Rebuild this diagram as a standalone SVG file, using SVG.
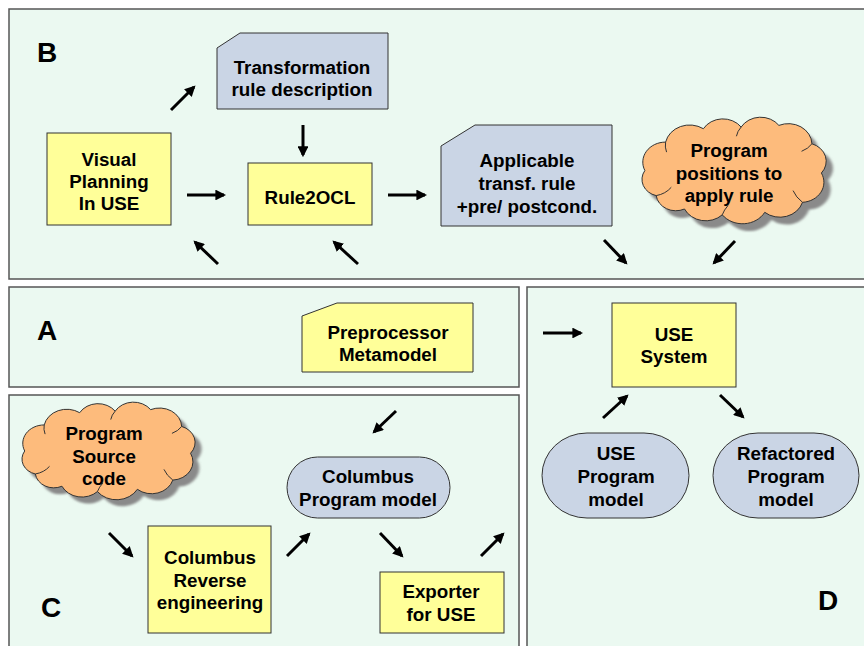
<svg xmlns="http://www.w3.org/2000/svg" xmlns:xlink="http://www.w3.org/1999/xlink" width="864" height="646" viewBox="0 0 864 646">
<style>
.panel{fill:#EBF9F1;stroke:#555;stroke-width:1.5}
.yel{fill:#FFFF99;stroke:#333;stroke-width:1}
.blu{fill:#CAD5E5;stroke:#333;stroke-width:1}
.cl{fill:#FDBB7C;stroke:#333;stroke-width:1}
.sh{fill:#8A8A8A}
.t{font-family:"Liberation Sans",Arial,sans-serif;font-weight:bold;font-size:18.8px;fill:#000;text-anchor:middle}
.big{font-family:"Liberation Sans",Arial,sans-serif;font-weight:bold;font-size:28px;fill:#000}
.arr{stroke:#000;stroke-width:3;fill:none;marker-end:url(#ah)}
</style>
<defs>
<marker id="ah" viewBox="0 0 10 10" refX="8" refY="5" markerWidth="3.6" markerHeight="3.6" orient="auto" markerUnits="strokeWidth">
<path d="M0,0 L10,5 L0,10 z" fill="#000"/>
</marker>
<filter id="blur" x="-10%" y="-10%" width="120%" height="120%"><feGaussianBlur stdDeviation="1.5"/></filter>
<path id="cloud" vector-effect="non-scaling-stroke" d="M8,62 A24,24 0 0 1 30,28 A26,26 0 0 1 70,12 A24,24 0 0 1 110,10 A24,24 0 0 1 150,8 A25,25 0 0 1 185,30 A22,22 0 0 1 195,65 A24,24 0 0 1 175,100 A25,25 0 0 1 135,112 A27,27 0 0 1 90,115 A25,25 0 0 1 50,108 A21,21 0 0 1 20,92 A20,20 0 0 1 8,62 Z"/>
<path id="cloudin" vector-effect="non-scaling-stroke" fill="none" d="M20,92 Q30,90 36,82 M30,28 Q29,34 31,40 M110,10 Q106,15 105,21 M185,30 Q181,36 174,39 M175,100 Q168,94 165,86 M90,115 Q92,109 96,104"/>
</defs>

<rect class="panel" x="9" y="9" width="870" height="270"/>
<rect class="panel" x="9" y="287" width="510" height="100"/>
<rect class="panel" x="9" y="395" width="510" height="262"/>
<rect class="panel" x="527" y="287" width="350" height="370"/>
<text class="big" x="37" y="62">B</text>
<text class="big" x="37" y="340">A</text>
<text class="big" x="41" y="617">C</text>
<text class="big" x="818" y="610">D</text>

<g id="transformation-rule">
<polygon class="blu" points="217,48 240,33 388,33 388,109 217,109"/>
<text class="t" x="302" y="74">Transformation</text>
<text class="t" x="302" y="96">rule description</text>
</g>
<g id="visual-planning">
<rect class="yel" x="47" y="133" width="124" height="92"/>
<text class="t" x="109" y="166">Visual</text>
<text class="t" x="109" y="188">Planning</text>
<text class="t" x="109" y="210">In USE</text>
</g>
<g id="rule2ocl">
<rect class="yel" x="248" y="163" width="124" height="62"/>
<text class="t" x="310" y="204">Rule2OCL</text>
</g>
<g id="applicable-rule">
<polygon class="blu" points="441,146 475,125 612,125 612,226 441,226"/>
<text class="t" x="527" y="167">Applicable</text>
<text class="t" x="527" y="190">transf. rule</text>
<text class="t" x="527" y="213">+pre/ postcond.</text>
</g>
<g id="program-positions">
<use xlink:href="#cloud" class="sh" filter="url(#blur)" transform="translate(644,126) scale(0.944,0.836)"/>
<use xlink:href="#cloud" class="cl" transform="translate(637.3,118.7) scale(0.944,0.836)"/>
<use xlink:href="#cloudin" stroke="#333" transform="translate(637.3,118.7) scale(0.944,0.836)"/>
<text class="t" x="729" y="157">Program</text>
<text class="t" x="729" y="180">positions to</text>
<text class="t" x="729" y="202">apply rule</text>
</g>
<g id="preprocessor-metamodel">
<polygon class="yel" points="302,316 337,303 473,303 473,372 302,372"/>
<text class="t" x="388" y="339">Preprocessor</text>
<text class="t" x="388" y="361">Metamodel</text>
</g>
<g id="program-source">
<use xlink:href="#cloud" class="sh" filter="url(#blur)" transform="translate(24,410) scale(0.887,0.766)"/>
<use xlink:href="#cloud" class="cl" transform="translate(17.6,403.5) scale(0.887,0.766)"/>
<use xlink:href="#cloudin" stroke="#333" transform="translate(17.6,403.5) scale(0.887,0.766)"/>
<text class="t" x="104" y="440">Program</text>
<text class="t" x="104" y="463">Source</text>
<text class="t" x="104" y="485">code</text>
</g>
<g id="columbus-program-model">
<rect class="blu" x="287" y="457" width="163" height="61" rx="30.5" ry="30.5"/>
<text class="t" x="368" y="483">Columbus</text>
<text class="t" x="368" y="506">Program model</text>
</g>
<g id="columbus-reverse">
<rect class="yel" x="148" y="526" width="123" height="107"/>
<text class="t" x="210" y="564">Columbus</text>
<text class="t" x="210" y="587">Reverse</text>
<text class="t" x="210" y="609">engineering</text>
</g>
<g id="exporter">
<rect class="yel" x="380" y="572" width="124" height="61"/>
<text class="t" x="441" y="598">Exporter</text>
<text class="t" x="441" y="621">for USE</text>
</g>
<g id="use-system">
<rect class="yel" x="612" y="303" width="124" height="84"/>
<text class="t" x="674" y="341">USE</text>
<text class="t" x="674" y="363">System</text>
</g>
<g id="use-program-model">
<rect class="blu" x="542" y="433" width="147" height="85" rx="45" ry="42.5"/>
<text class="t" x="616" y="460">USE</text>
<text class="t" x="616" y="483">Program</text>
<text class="t" x="616" y="506">model</text>
</g>
<g id="refactored-program-model">
<rect class="blu" x="713" y="433" width="146" height="85" rx="45" ry="42.5"/>
<text class="t" x="786" y="460">Refactored</text>
<text class="t" x="786" y="483">Program</text>
<text class="t" x="786" y="506">model</text>
</g>

<g id="connectors">
<line class="arr" x1="171" y1="110" x2="194" y2="87"/>
<line class="arr" x1="303" y1="125" x2="303" y2="155"/>
<line class="arr" x1="187" y1="195" x2="224" y2="195"/>
<line class="arr" x1="388" y1="195" x2="425" y2="195"/>
<line class="arr" x1="218" y1="264" x2="195" y2="242"/>
<line class="arr" x1="358" y1="264" x2="334" y2="242"/>
<line class="arr" x1="604" y1="240" x2="626" y2="263"/>
<line class="arr" x1="735" y1="241" x2="714" y2="263"/>
<line class="arr" x1="396" y1="411" x2="374" y2="432"/>
<line class="arr" x1="109" y1="533" x2="132" y2="556"/>
<line class="arr" x1="287" y1="556" x2="309" y2="534"/>
<line class="arr" x1="380" y1="533" x2="402" y2="556"/>
<line class="arr" x1="481" y1="556" x2="503" y2="534"/>
<line class="arr" x1="543" y1="333" x2="581" y2="333"/>
<line class="arr" x1="603" y1="418" x2="627" y2="396"/>
<line class="arr" x1="720" y1="395" x2="743" y2="417"/>
</g>
</svg>
